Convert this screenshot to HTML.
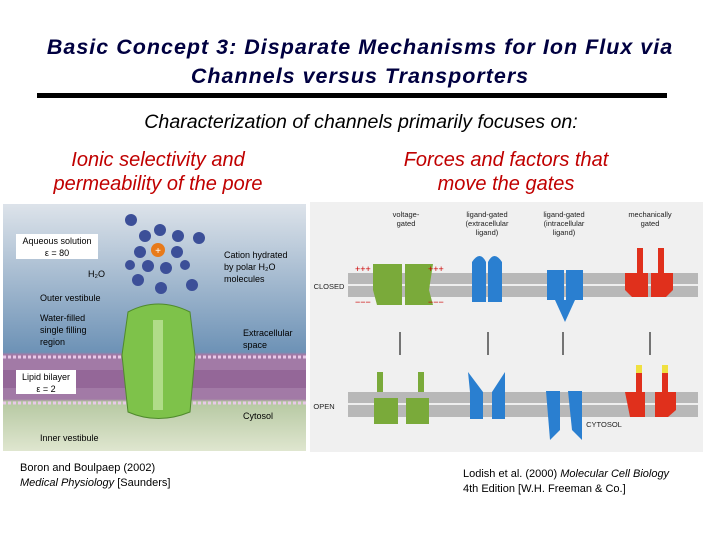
<!DOCTYPE html>
<html><head><style>
body{margin:0;background:#fff;width:720px;height:540px;overflow:hidden;font-family:"Liberation Sans",sans-serif}
.t{position:absolute;text-align:center;font-style:italic}
</style></head><body>
<div class="t" style="left:0;width:720px;top:33px;font-size:21.5px;line-height:29px;letter-spacing:1px;color:#000040;font-weight:bold">Basic Concept 3: Disparate Mechanisms for Ion Flux via<br>Channels versus Transporters</div>
<div style="position:absolute;left:37px;top:93px;width:630px;height:5px;background:#000"></div>
<div class="t" style="left:0;width:722px;top:111px;font-size:19.6px;color:#000">Characterization of channels primarily focuses on:</div>
<div class="t" style="left:18px;width:280px;top:148px;font-size:20px;line-height:24px;color:#c00000">Ionic selectivity and<br>permeability of the pore</div>
<div class="t" style="left:366px;width:280px;top:148px;font-size:20px;line-height:24px;color:#c00000">Forces and factors that<br>move the gates</div>
<svg style="position:absolute;left:0;top:0" width="720" height="540" font-family="Liberation Sans,sans-serif">
<defs>
<linearGradient id="bg" x1="0" y1="0" x2="0" y2="1"><stop offset="0" stop-color="#dde3ea"/><stop offset="0.6" stop-color="#6d92b6"/><stop offset="0.61" stop-color="#a27aa6"/><stop offset="0.79" stop-color="#a27aa6"/><stop offset="0.8" stop-color="#b6c8a2"/><stop offset="1" stop-color="#dfe6cf"/></linearGradient>
</defs>
<rect x="3" y="204" width="303" height="247" fill="url(#bg)"/>
<rect x="3" y="370" width="303" height="18" fill="#8b5a8f" opacity="0.6"/>
<line x1="3" y1="357" x2="306" y2="357" stroke="#e8c8e8" stroke-width="3" stroke-dasharray="3 2"/>
<line x1="3" y1="403" x2="306" y2="403" stroke="#e8c8e8" stroke-width="3" stroke-dasharray="3 2"/>
<rect x="16" y="234" width="82" height="25" fill="#fff"/>
<text x="57" y="244" font-size="9" text-anchor="middle">Aqueous solution</text><text x="57" y="256" font-size="9" text-anchor="middle">ε = 80</text>
<rect x="16" y="370" width="60" height="24" fill="#fff"/>
<text x="46" y="380" font-size="9" text-anchor="middle">Lipid bilayer</text><text x="46" y="392" font-size="9" text-anchor="middle">ε = 2</text>
<g font-size="9"><text x="88" y="277">H₂O</text><text x="40" y="301">Outer vestibule</text><text x="40" y="321">Water-filled</text><text x="40" y="333">single filling</text><text x="40" y="345">region</text>
<text x="224" y="258">Cation hydrated</text><text x="224" y="270">by polar H₂O</text><text x="224" y="282">molecules</text>
<text x="243" y="336">Extracellular</text><text x="243" y="348">space</text><text x="243" y="419">Cytosol</text><text x="40" y="441">Inner vestibule</text></g>
<g fill="#3c4f98"><circle cx="131" cy="220" r="6"/><circle cx="160" cy="230" r="6"/><circle cx="178" cy="236" r="6"/><circle cx="145" cy="236" r="6"/><circle cx="140" cy="252" r="6"/><circle cx="177" cy="252" r="6"/><circle cx="148" cy="266" r="6"/><circle cx="166" cy="268" r="6"/><circle cx="199" cy="238" r="6"/><circle cx="138" cy="280" r="6"/><circle cx="161" cy="288" r="6"/><circle cx="192" cy="285" r="6"/><circle cx="130" cy="265" r="5"/><circle cx="185" cy="265" r="5"/></g>
<circle cx="158" cy="250" r="7" fill="#e87a1a"/><text x="158" y="254" font-size="10" fill="#fff" text-anchor="middle">+</text>
<path d="M128 312 Q158 296 190 312 L195 355 L190 412 Q158 425 128 412 L122 355 Z" fill="#7ec24a" stroke="#4f8a2c"/>
<rect x="153" y="320" width="10" height="90" fill="#b0dc88"/>
<rect x="310" y="202" width="393" height="250" fill="#f0f0f0"/>
<g fill="#b8b8b8"><rect x="348" y="273" width="350" height="24"/><rect x="348" y="392" width="350" height="25"/></g>
<g stroke="#fff" stroke-width="1.5"><line x1="348" y1="285" x2="698" y2="285"/><line x1="348" y1="404" x2="698" y2="404"/></g>
<g font-size="7.5" fill="#222" text-anchor="middle"><text x="406" y="217">voltage-</text><text x="406" y="226">gated</text>
<text x="487" y="217">ligand-gated</text><text x="487" y="226">(extracellular</text><text x="487" y="235">ligand)</text>
<text x="564" y="217">ligand-gated</text><text x="564" y="226">(intracellular</text><text x="564" y="235">ligand)</text>
<text x="650" y="217">mechanically</text><text x="650" y="226">gated</text>
<text x="329" y="289">CLOSED</text><text x="324" y="409">OPEN</text><text x="604" y="427">CYTOSOL</text></g>
<g fill="#7aaa3a"><path d="M373 264 H402 V305 H377 L373 290Z"/><path d="M405 264 H433 L429 290 L433 305 H405Z"/><path d="M374 398 H398 V424 H374Z"/><path d="M406 398 H429 V424 H406Z"/><rect x="377" y="372" width="6" height="20"/><rect x="418" y="372" width="6" height="20"/></g>
<g fill="#2a7fd0"><path d="M472 262 Q480 250 486 262 V302 H472Z"/><path d="M488 262 Q494 250 502 262 V302 H488Z"/><rect x="547" y="270" width="17" height="30"/><rect x="566" y="270" width="17" height="30"/><path d="M555 300 L565 322 L575 300Z"/><path d="M468 372 L483 392 V419 H470 V392Z"/><path d="M505 372 L492 392 V419 H505Z"/><path d="M546 391 H560 V430 L550 440 Z"/><path d="M568 391 H582 V440 L572 430 Z"/></g>
<g fill="#e0301c"><path d="M625 273 H648 V297 H632 L625 290Z"/><path d="M651 273 H673 V290 L666 297 H651Z"/><rect x="637" y="248" width="6" height="25"/><rect x="658" y="248" width="6" height="25"/><path d="M625 392 H645 V417 H630Z"/><path d="M655 392 H676 V410 L668 417 H655Z"/><rect x="636" y="370" width="6" height="22"/><rect x="662" y="370" width="6" height="22"/></g>
<g fill="#f0e040"><rect x="636" y="365" width="6" height="8"/><rect x="662" y="365" width="6" height="8"/></g>
<g stroke="#222" stroke-width="1.2"><line x1="400" y1="332" x2="400" y2="355"/><line x1="488" y1="332" x2="488" y2="355"/><line x1="563" y1="332" x2="563" y2="355"/><line x1="650" y1="332" x2="650" y2="355"/></g>
<g font-size="9" fill="#c00"><text x="355" y="272">+++</text><text x="428" y="272">+++</text><text x="355" y="305">−−−</text><text x="428" y="305">−−−</text></g>
</svg>
<div style="position:absolute;left:20px;top:461px;font-size:11px;line-height:15px">Boron and Boulpaep (2002)<br><i>Medical Physiology</i> [Saunders]</div>
<div style="position:absolute;left:463px;top:467px;font-size:11px;line-height:15px">Lodish et al. (2000) <i>Molecular Cell Biology</i><br>4th Edition [W.H. Freeman &amp; Co.]</div>
</body></html>
